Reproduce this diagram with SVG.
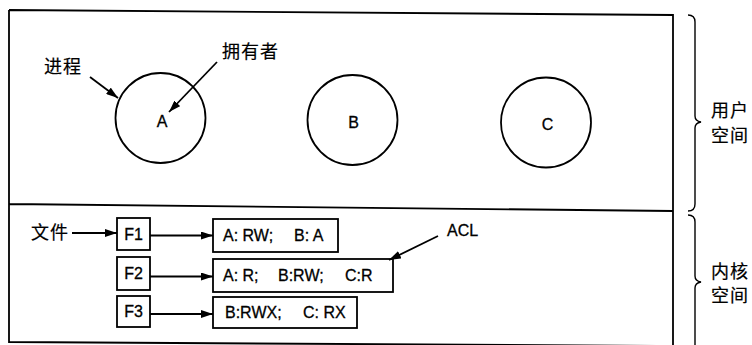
<svg xmlns="http://www.w3.org/2000/svg" width="752" height="345" viewBox="0 0 752 345">
<style>
.frame{fill:none;stroke:#000;stroke-width:1.8}
.node{fill:#fff;stroke:#000;stroke-width:1.8}
.conn{fill:none;stroke:#000;stroke-width:1.8}
.brace{fill:none;stroke:#000;stroke-width:1.4}
.lat{font-family:"Liberation Sans",Arial,sans-serif;font-size:16px;fill:#000;stroke:#000;stroke-width:0.3}
.cjk{font-family:"Noto Sans CJK SC","Liberation Sans",sans-serif;font-size:18px;letter-spacing:1px;fill:#000;stroke:#000;stroke-width:0.2}
</style>
<defs>
<marker id="ah" viewBox="0 0 12 8" refX="12" refY="4" markerWidth="12" markerHeight="8" markerUnits="userSpaceOnUse" orient="auto">
<path d="M0,0 L12,4 L0,8 Z" fill="#000"/>
</marker>
</defs>
<g id="frame">
<path class="frame" d="M9,10 L673,15 L673,345 M9,10 L9,342 L673,346 M9,204 L673,211"/>
<path class="brace" d="M688,15 Q695,15 695,22 L695,116 Q695,121 701,122 Q695,123 695,128 L695,204 Q695,211 688,211"/>
<path class="brace" d="M688,215 Q695,215 695,222 L695,276 Q695,281 701,282 Q695,283 695,288 L695,345"/>
<text class="cjk" x="711" y="117">用户</text>
<text class="cjk" x="711" y="142">空间</text>
<text class="cjk" x="711" y="278">内核</text>
<text class="cjk" x="711" y="302">空间</text>
</g>
<g id="procA">
<circle class="node" cx="160.5" cy="118" r="45"/>
<text class="lat" x="162" y="127" text-anchor="middle">A</text>
</g>
<g id="procB">
<circle class="node" cx="352.5" cy="120" r="45"/>
<text class="lat" x="353.5" y="128" text-anchor="middle">B</text>
</g>
<g id="procC">
<circle class="node" cx="546" cy="122.5" r="45"/>
<text class="lat" x="547.5" y="130" text-anchor="middle">C</text>
</g>
<g id="label-process"><text class="cjk" x="44" y="73">进程</text></g>
<g id="label-owner"><text class="cjk" x="222" y="58">拥有者</text></g>
<g id="label-file"><text class="cjk" x="31" y="239">文件</text></g>
<g id="label-acl"><text class="lat" x="447" y="236">ACL</text></g>
<g id="F1">
<rect class="node" x="117" y="218" width="33" height="32"/>
<text class="lat" x="133.5" y="240" text-anchor="middle">F1</text>
</g>
<g id="F2">
<rect class="node" x="117" y="257" width="33" height="33"/>
<text class="lat" x="133.5" y="279" text-anchor="middle">F2</text>
</g>
<g id="F3">
<rect class="node" x="117" y="296" width="33" height="31"/>
<text class="lat" x="133.5" y="317" text-anchor="middle">F3</text>
</g>
<g id="acl1">
<rect class="node" x="213" y="219" width="125" height="33"/>
<text class="lat" y="241"><tspan x="223">A: RW;</tspan><tspan x="294">B: A</tspan></text>
</g>
<g id="acl2">
<rect class="node" x="213" y="259" width="180" height="33"/>
<text class="lat" y="281"><tspan x="223">A: R;</tspan><tspan x="278">B:RW;</tspan><tspan x="345">C:R</tspan></text>
</g>
<g id="acl3">
<rect class="node" x="213" y="297" width="144" height="31"/>
<text class="lat" y="318"><tspan x="225">B:RWX;</tspan><tspan x="303">C: RX</tspan></text>
</g>
<g id="connectors">
<line class="conn" x1="90" y1="77" x2="118" y2="98" marker-end="url(#ah)"/>
<line class="conn" x1="217" y1="62" x2="169" y2="112" marker-end="url(#ah)"/>
<line class="conn" x1="72" y1="233" x2="117" y2="233" marker-end="url(#ah)"/>
<line class="conn" x1="150" y1="235.5" x2="213" y2="235.5" marker-end="url(#ah)"/>
<line class="conn" x1="150" y1="276.5" x2="213" y2="276.5" marker-end="url(#ah)"/>
<line class="conn" x1="150" y1="314" x2="213" y2="314" marker-end="url(#ah)"/>
<line class="conn" x1="438" y1="236" x2="389" y2="260" marker-end="url(#ah)"/>
</g>
</svg>
